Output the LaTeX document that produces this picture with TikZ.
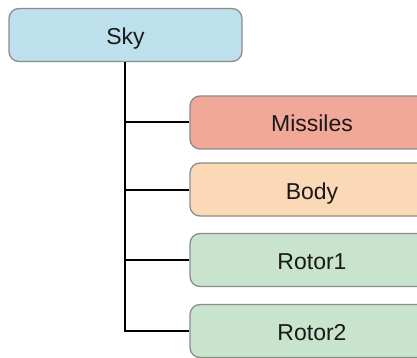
\documentclass[tikz,border=0pt]{standalone}
\usepackage{fontspec}
\setmainfont{Liberation Sans}
\definecolor{skyfill}{HTML}{BEE0EC}
\definecolor{misfill}{HTML}{F2A898}
\definecolor{bodyfill}{HTML}{FCD9B6}
\definecolor{rotfill}{HTML}{C8E4CC}
\definecolor{boxline}{HTML}{8C8C8C}
\begin{document}
\begin{tikzpicture}[x=1pt,y=-1pt,
  box/.style={draw=boxline, line width=1.3pt, rounded corners=10pt, minimum height=53pt,
     inner sep=0pt, text height=22pt, text depth=3pt,
     font=\fontsize{23}{26}\selectfont, text=black!90},
  conn/.style={line width=2pt, black}]
\useasboundingbox (0,0) rectangle (417,358);
\clip (0,0) rectangle (417,358);
\node[box, fill=skyfill, minimum width=233pt] (sky) at (125.5,35) {Sky};
\node[box, fill=misfill, minimum width=244pt] (mis) at (312,122.5) {Missiles};
\node[box, fill=bodyfill, minimum width=244pt] (body) at (312,189.5) {Body};
\node[box, fill=rotfill, minimum width=244pt] (rot1) at (312,260) {Rotor1};
\node[box, fill=rotfill, minimum width=244pt] (rot2) at (312,331) {Rotor2};
\coordinate (trunk) at (125,331);
\draw[conn] (sky.south -| trunk) -- (trunk) -- (rot2.west);
\draw[conn] (mis.west) -- (mis.west -| trunk);
\draw[conn] (body.west) -- (body.west -| trunk);
\draw[conn] (rot1.west) -- (rot1.west -| trunk);
\end{tikzpicture}
\end{document}
